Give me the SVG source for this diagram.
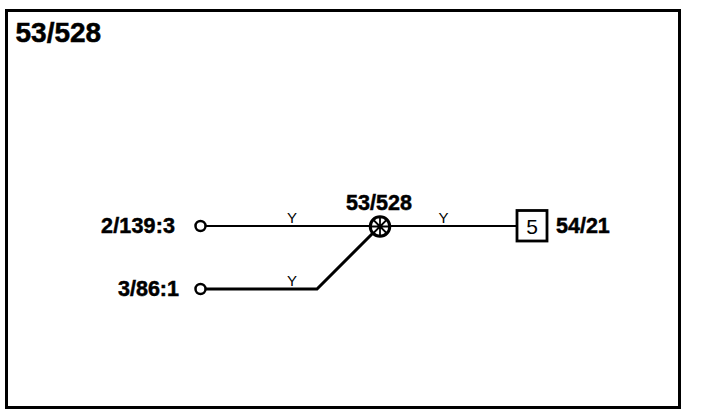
<svg xmlns="http://www.w3.org/2000/svg" width="704" height="414" viewBox="0 0 704 414">
<style>
text{font-family:"Liberation Sans",Arial,sans-serif;fill:#000}
.b{font-weight:bold;font-size:21.500px;stroke:#000;stroke-width:.5px}
.y{font-size:15px}
.w{fill:none;stroke:#000;stroke-width:2}
.t{fill:#fff;stroke:#000;stroke-width:2.5}
.s{fill:none;stroke:#000;stroke-width:1.8}
</style>
<rect width="704" height="414" fill="#fff"/>
<rect x="6.500" y="10.500" width="673" height="397" fill="#fff" stroke="#000" stroke-width="3"/>
<text class="b" x="15.500" y="41.500" style="font-size:28px">53/528</text>
<g id="connectors">
<path class="w" d="M206 226H516"/>
<path class="w" style="stroke-width:3" d="M206 289H317L373 233"/>
</g>
<g id="labels-wire">
<text class="y" x="292" y="223" text-anchor="middle">Y</text>
<text class="y" x="443.500" y="223" text-anchor="middle">Y</text>
<text class="y" x="292" y="286" text-anchor="middle">Y</text>
</g>
<g id="n-2-139-3">
<circle class="t" cx="200.500" cy="226" r="5"/>
<text class="b" x="175" y="232.500" text-anchor="end" textLength="74">2/139:3</text>
</g>
<g id="n-3-86-1">
<circle class="t" cx="200.500" cy="289" r="5"/>
<text class="b" x="179" y="295.500" text-anchor="end" textLength="61">3/86:1</text>
</g>
<g id="n-53-528">
<circle cx="380" cy="226.500" r="9.750" fill="#fff" stroke="#000" stroke-width="3"/>
<path class="s" d="M370 226.500H390M380 216.500V236.500M373 219.500L387 233.500M387 219.500L373 233.500"/>
<text class="b" x="379" y="209.500" text-anchor="middle">53/528</text>
</g>
<g id="n-54-21">
<rect x="517" y="210.500" width="30" height="30.500" fill="#fff" stroke="#000" stroke-width="2.800"/>
<text x="532" y="233.500" text-anchor="middle" style="font-size:21px">5</text>
<text class="b" x="556" y="232.500">54/21</text>
</g>
</svg>
